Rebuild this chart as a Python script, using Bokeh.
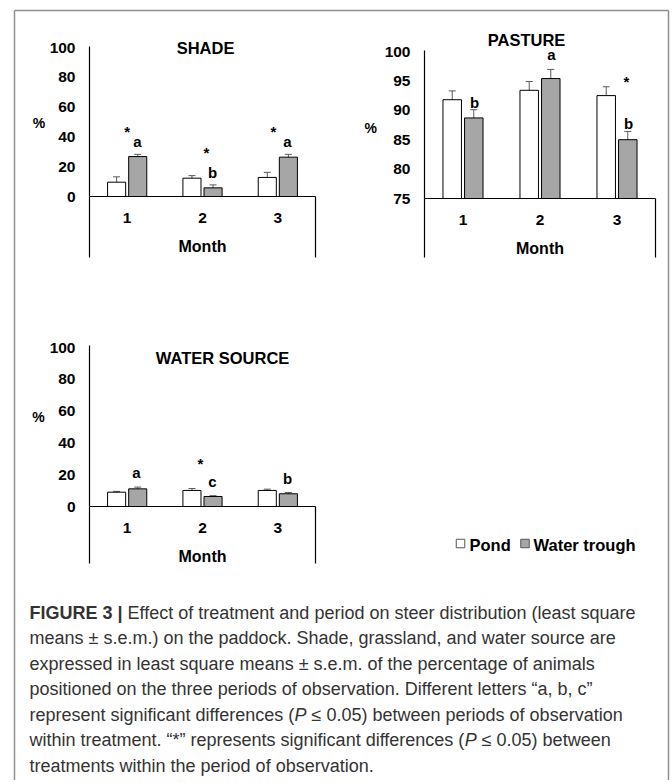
from bokeh.plotting import figure
from bokeh.models import Range1d, LinearAxis, FixedTicker, Whisker, TeeHead, ColumnDataSource
from bokeh.core.properties import value
from bokeh.embed import file_html
from bokeh.resources import INLINE

# ---------------- data ----------------
months = [1, 2, 3]
series_names = ["Pond", "Water trough"]

shade_pond = [9.6, 12.3, 12.8]
shade_pond_sem = [3.6, 1.7, 3.4]
shade_trough = [26.8, 5.8, 26.4]
shade_trough_sem = [1.5, 2.0, 1.9]
shade_letters = ["a", "b", "a"]
shade_ticks = [0, 20, 40, 60, 80, 100]

pasture_pond = [91.8, 93.4, 92.5]
pasture_pond_sem = [1.5, 1.5, 1.5]
pasture_trough = [88.7, 95.4, 85.0]
pasture_trough_sem = [1.4, 1.55, 1.4]
pasture_letters = ["b", "a", "b"]
pasture_ticks = [75, 80, 85, 90, 95, 100]

water_pond = [9.0, 10.1, 10.1]
water_pond_sem = [0.5, 1.2, 0.8]
water_trough = [11.1, 6.3, 8.0]
water_trough_sem = [1.1, 0.5, 0.8]
water_letters = ["a", "c", "b"]
water_ticks = [0, 20, 40, 60, 80, 100]

caption_segments = [
    [("FIGURE 3 |", "bold", 0.0),
     ("Effect of treatment and period on steer distribution (least square", "normal", 98.1)],
    [("means \u00b1 s.e.m.) on the paddock. Shade, grassland, and water source are", "normal", 0.0)],
    [("expressed in least square means \u00b1 s.e.m. of the percentage of animals", "normal", 0.0)],
    [("positioned on the three periods of observation. Different letters \u201ca, b, c\u201d", "normal", 0.0)],
    [("represent significant differences (", "normal", 0.0), ("P", "italic", 265.1),
     ("\u2264 0.05) between periods of observation", "normal", 282.1)],
    [("within treatment. \u201c*\u201d represents significant differences (", "normal", 0.0),
     ("P", "italic", 435.2), ("\u2264 0.05) between", "normal", 452.2)],
    [("treatments within the period of observation.", "normal", 0.0)],
]

# ---------------- layout / style ----------------
W, H = 670, 780
FONT = "Liberation Sans"
TROUGH_FILL = "#a6a6a6"
ERR = "#5a5a5a"
FRAME = "#8f8f8f"
OFF = 0.14      # bar offset from month centre (data units)
BW = 0.24       # bar width (data units)

panels = [
    dict(name="shade", title="SHADE", ticks=shade_ticks, base=0, ytop=101,
         pond=shade_pond, pond_sem=shade_pond_sem, trough=shade_trough, trough_sem=shade_trough_sem,
         letters=shade_letters,
         xpx=(89, 315), yv=(0, 100), ypx=(196, 47), box_px=257,
         title_at=(2.04, 100.0), pct_at=(-0.17, 49.0),
         letter_at=[(1.137, 36.9), (2.133, 16.1), (3.128, 36.9)],
         star_at=[(1.0, 43.6), (2.053, 29.5), (2.943, 43.6)]),
    dict(name="pasture", title="PASTURE", ticks=pasture_ticks, base=75, ytop=100.2,
         pond=pasture_pond, pond_sem=pasture_pond_sem, trough=pasture_trough, trough_sem=pasture_trough_sem,
         letters=pasture_letters,
         xpx=(424, 655), yv=(75, 100), ypx=(198, 51), box_px=257,
         title_at=(1.825, 102.04), pct_at=(-0.2, 87.07),
         letter_at=[(1.149, 91.33), (2.149, 99.49), (3.149, 87.76)],
         star_at=[(3.123, 94.9)]),
    dict(name="water", title="WATER SOURCE", ticks=water_ticks, base=0, ytop=101,
         pond=water_pond, pond_sem=water_pond_sem, trough=water_trough, trough_sem=water_trough_sem,
         letters=water_letters,
         xpx=(89, 315), yv=(0, 100), ypx=(506, 347), box_px=563,
         title_at=(2.266, 93.1), pct_at=(-0.177, 56.0),
         letter_at=[(1.124, 21.4), (2.133, 15.7), (3.128, 17.6)],
         star_at=[(1.973, 27.0)]),
]

p = figure(width=W, height=H, x_range=Range1d(0, W), y_range=Range1d(H, 0),
           x_axis_location=None, y_axis_location=None, title=None,
           toolbar_location=None, output_backend="svg", min_border=0,
           outline_line_color=None, background_fill_color="white", border_fill_color="white")
p.grid.visible = False


def txt(xs, ys, texts, size, xr=None, yr=None, align="center", style="bold", color="black"):
    kw = {}
    if xr is not None:
        kw = dict(x_range_name=xr, y_range_name=yr)
    p.text(x=xs, y=ys, text=texts, text_font=value(FONT), text_font_style=style,
           text_font_size=value(size), text_align=align, text_baseline="middle",
           text_color=color, **kw)


def style_axis(ax):
    ax.axis_line_color = "black"
    ax.axis_line_width = 1.2
    ax.major_tick_line_color = None
    ax.major_tick_in = 0
    ax.major_tick_out = 0
    ax.minor_tick_line_color = None
    ax.minor_tick_in = 0
    ax.minor_tick_out = 0
    ax.major_label_text_font = FONT
    ax.major_label_text_font_style = "bold"
    ax.major_label_text_font_size = "15.5px"
    ax.major_label_text_color = "black"
    ax.axis_label_text_font = FONT
    ax.axis_label_text_font_style = "bold"
    ax.axis_label_text_font_size = "16px"
    ax.axis_label_text_color = "black"


for pn in panels:
    xr, yr = pn["name"] + "_x", pn["name"] + "_y"
    x0px, x1px = pn["xpx"]
    kx = 3.0 / (x1px - x0px)
    p.extra_x_ranges[xr] = Range1d(0.5 - x0px * kx, 0.5 + (W - x0px) * kx)
    v0, v1 = pn["yv"]
    y0px, y1px = pn["ypx"]
    ky = (v1 - v0) / (y0px - y1px)
    p.extra_y_ranges[yr] = Range1d(v0 - (H - y0px) * ky, v0 + y0px * ky)
    box_v = v0 - (pn["box_px"] - y0px) * ky
    base = pn["base"]

    src = ColumnDataSource(dict(
        xp=[m - OFF for m in months], xt=[m + OFF for m in months],
        pond=pn["pond"], trough=pn["trough"],
        pl=[v - e for v, e in zip(pn["pond"], pn["pond_sem"])],
        pu=[v + e for v, e in zip(pn["pond"], pn["pond_sem"])],
        tl=[v - e for v, e in zip(pn["trough"], pn["trough_sem"])],
        tu=[v + e for v, e in zip(pn["trough"], pn["trough_sem"])],
    ))
    p.vbar(x="xp", top="pond", bottom=base, width=BW, source=src, fill_color="white",
           line_color="black", line_width=1, x_range_name=xr, y_range_name=yr)
    p.vbar(x="xt", top="trough", bottom=base, width=BW, source=src, fill_color=TROUGH_FILL,
           line_color="black", line_width=1, x_range_name=xr, y_range_name=yr)
    for xc, lo, up in (("xp", "pl", "pu"), ("xt", "tl", "tu")):
        p.add_layout(Whisker(source=src, base=xc, lower=lo, upper=up, dimension="height",
                             line_color=ERR, line_width=1,
                             upper_head=TeeHead(size=7, line_color=ERR, line_width=1),
                             lower_head=TeeHead(size=7, line_color=ERR, line_width=1),
                             x_range_name=xr, y_range_name=yr))

    ya = LinearAxis(x_range_name=xr, y_range_name=yr, fixed_location=0.5,
                    bounds=(base, pn["ytop"]), ticker=FixedTicker(ticks=pn["ticks"]))
    style_axis(ya)
    ya.major_label_standoff = 14
    p.add_layout(ya, "left")

    xa = LinearAxis(x_range_name=xr, y_range_name=yr, fixed_location=base,
                    bounds=(0.5, 3.5), ticker=FixedTicker(ticks=months), axis_label="Month")
    style_axis(xa)
    xa.major_label_standoff = 16
    xa.axis_label_standoff = 12
    p.add_layout(xa, "below")

    # box lines under the category axis
    p.segment(x0=[0.5, 3.5], y0=[box_v, box_v], x1=[0.5, 3.5], y1=[base, base],
              line_color="black", line_width=1.2, x_range_name=xr, y_range_name=yr)

    txt([pn["title_at"][0]], [pn["title_at"][1]], [pn["title"]], "16.5px", xr, yr)
    txt([pn["pct_at"][0]], [pn["pct_at"][1]], ["%"], "14px", xr, yr)
    txt([a[0] for a in pn["letter_at"]], [a[1] for a in pn["letter_at"]], pn["letters"], "15px", xr, yr)
    txt([a[0] for a in pn["star_at"]], [a[1] for a in pn["star_at"]], ["*"] * len(pn["star_at"]),
        "15px", xr, yr)

# legend (pixel coordinates of the canvas)
p.rect(x=[460, 524.5], y=[543, 543], width=8.5, height=8.5,
       fill_color=["white", TROUGH_FILL], line_color="#555555", line_width=1)
txt([469, 533], [544, 544], series_names, "16.5px", align="left")

# outer frame
p.segment(x0=[14, 14, 668], y0=[10, 10, 10], x1=[668, 14, 668], y1=[10, H, H],
          line_color=FRAME, line_width=1.5)

# caption
for i, segs in enumerate(caption_segments):
    for t, style, dx in segs:
        txt([29 + dx], [612 + 25.5 * i], [t], "18px", align="left", style=style, color="#333333")

open("out.html", "w").write(file_html(p, INLINE))
